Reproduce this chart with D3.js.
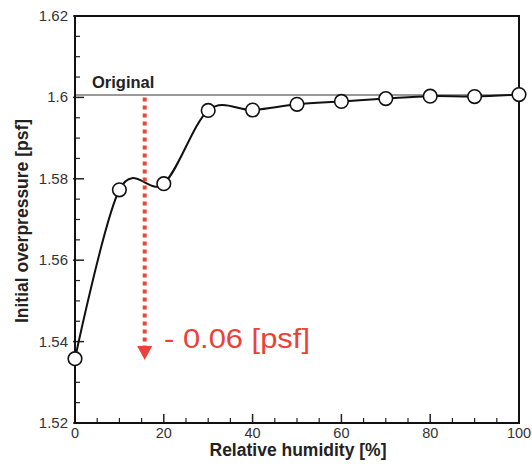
<!DOCTYPE html>
<html><head><meta charset="utf-8">
<script src="https://cdn.jsdelivr.net/npm/d3@7"></script>
<style>body{margin:0;background:#fff}svg{display:block}text{font-family:"Liberation Sans",Arial,sans-serif}</style>
</head><body>
<svg id="c" width="532" height="464"></svg>
<script>
const humidity = [0,10,20,30,40,50,60,70,80,90,100];
const pressure = [1.5358,1.5773,1.5788,1.5968,1.5969,1.5983,1.5990,1.5997,1.6003,1.6002,1.6007];
const originalValue = 1.6006;
const xTicks = [0,20,40,60,80,100];
const yTicks = [1.52,1.54,1.56,1.58,1.6,1.62];
const arrowX = 15.7, arrowFrom = 1.6, arrowTo = 1.5355;
const deltaLabel = "- 0.06 [psf]";

const svg = d3.select("#c");
const L=75,R=519,T=16,B=423;
const x = d3.scaleLinear().domain([0,100]).range([L,R]);
const y = d3.scaleLinear().domain([1.52,1.62]).range([B,T]);

const g = svg.append("g");
const xMinor = d3.range(0,101,5).filter(v=>v%20);
const yMinor = d3.range(0,21).map(i=>+(1.52+i*0.005).toFixed(3)).filter(v=>!yTicks.some(t=>Math.abs(t-v)<1e-6));
g.selectAll(".xm").data(xMinor).join("line").attr("x1",d=>x(d)).attr("x2",d=>x(d)).attr("y1",B).attr("y2",B-5).attr("stroke","#222").attr("stroke-width",1.2);
g.selectAll(".xM").data(xTicks).join("line").attr("x1",d=>x(d)).attr("x2",d=>x(d)).attr("y1",B).attr("y2",B-9).attr("stroke","#222").attr("stroke-width",1.5);
g.selectAll(".ym").data(yMinor).join("line").attr("y1",d=>y(d)).attr("y2",d=>y(d)).attr("x1",L).attr("x2",L+5).attr("stroke","#222").attr("stroke-width",1.2);
g.selectAll(".yM").data(yTicks).join("line").attr("y1",d=>y(d)).attr("y2",d=>y(d)).attr("x1",L-2).attr("x2",L+9).attr("stroke","#222").attr("stroke-width",1.5);

g.selectAll(".xl").data(xTicks).join("text").attr("x",d=>x(d)).attr("y",438).attr("text-anchor","middle").attr("font-size",14.5).attr("fill","#333").text(d=>d);
g.selectAll(".yl").data(yTicks).join("text").attr("x",L-7).attr("y",d=>y(d)+5).attr("text-anchor","end").attr("font-size",15).attr("fill","#333").text(d=>d===1.6?"1.6":d.toFixed(2));

svg.append("line").attr("x1",L).attr("x2",R).attr("y1",y(originalValue)).attr("y2",y(originalValue)).attr("stroke","#777").attr("stroke-width",1.5);
svg.append("text").attr("x",92).attr("y",88).attr("font-size",16.5).attr("font-weight","bold").attr("fill","#222").text("Original");

svg.append("rect").attr("x",L).attr("y",T).attr("width",R-L).attr("height",B-T).attr("fill","none").attr("stroke","#111").attr("stroke-width",2);

const pts = humidity.map((h,i)=>[h,pressure[i]]);
svg.append("path").attr("d",d3.line().x(d=>x(d[0])).y(d=>y(d[1])).curve(d3.curveCatmullRom.alpha(0))(pts)).attr("fill","none").attr("stroke","#111").attr("stroke-width",2);
svg.selectAll(".pt").data(pts).join("circle").attr("cx",d=>x(d[0])).attr("cy",d=>y(d[1])).attr("r",6.8).attr("fill","#fff").attr("stroke","#111").attr("stroke-width",1.6);

const red="#ea4238";
const ax=x(arrowX);
svg.append("line").attr("x1",ax).attr("x2",ax).attr("y1",y(arrowFrom)).attr("y2",y(arrowTo)-14).attr("stroke",red).attr("stroke-width",4).attr("stroke-dasharray","4,4");
svg.append("path").attr("d",`M${ax-7.5},${y(arrowTo)-14}L${ax+7.5},${y(arrowTo)-14}L${ax},${y(arrowTo)}Z`).attr("fill",red);
svg.append("text").attr("x",164).attr("y",348).attr("font-size",28).attr("fill",red).attr("textLength",146).attr("lengthAdjust","spacingAndGlyphs").text(deltaLabel);

svg.append("text").attr("x",298).attr("y",456).attr("text-anchor","middle").attr("font-size",17.5).attr("font-weight","bold").attr("fill","#222").text("Relative humidity [%]");
svg.append("text").attr("transform",`translate(28,221) rotate(-90)`).attr("text-anchor","middle").attr("font-size",17.5).attr("font-weight","bold").attr("fill","#222").text("Initial overpressure [psf]");
</script>
</body></html>
